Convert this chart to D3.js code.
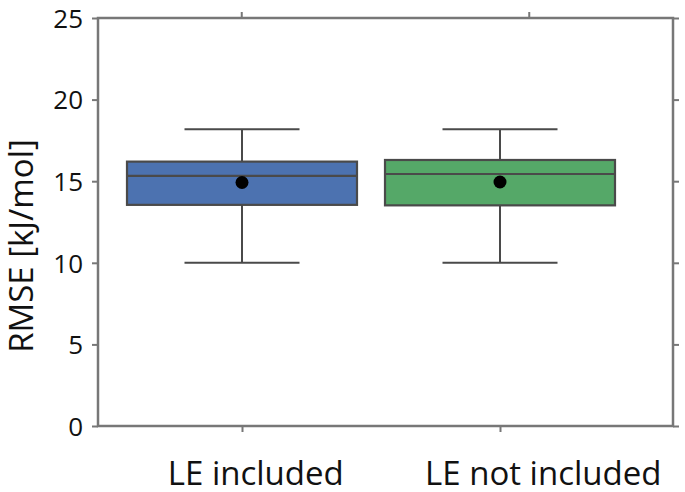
<!DOCTYPE html>
<html>
<head>
<meta charset="utf-8">
<script src="https://cdn.jsdelivr.net/npm/d3@7"></script>
<style>
  body { margin: 0; background: #fff; }
  text { font-family: "Open Sans", sans-serif; fill: #111; }
</style>
</head>
<body>
<svg id="chart"></svg>
<script>
// box plot values
const categories = ["LE included", "LE not included"];
const whiskerLow = [10.0, 10.0];
const q1 = [13.55, 13.52];
const median = [15.33, 15.44];
const q3 = [16.2, 16.3];
const whiskerHigh = [18.18, 18.18];
const means = [14.92, 14.95];
const colors = ["#4c72b0", "#55a868"];
const yTicks = [0, 5, 10, 15, 20, 25];

const width = 685, height = 492;
const frame = { left: 98, right: 673, top: 18, bottom: 426 };

const svg = d3.select("#chart").attr("width", width).attr("height", height);

const y = d3.scaleLinear().domain([0, 25]).range([frame.bottom, frame.top]);
// frame slots (top ticks, labels) and box centres (bottom ticks)
const band = d3.scaleBand().domain(categories).range([frame.left, frame.right]);
const x = d3.scalePoint().domain(categories).range([242, 500]);
const boxW = band.bandwidth() * 0.8;
const capW = band.bandwidth() * 0.4;

const data = categories.map((c, i) => ({
  cat: c, lo: whiskerLow[i], q1: q1[i], med: median[i], q3: q3[i],
  hi: whiskerHigh[i], mean: means[i], color: colors[i]
}));

const axisColor = "#777";

// axes
const gl = svg.append("g").attr("transform", `translate(${frame.left},0)`)
  .call(d3.axisLeft(y).tickValues(yTicks).tickSize(6).tickPadding(9));
const gr = svg.append("g").attr("transform", `translate(${frame.right},0)`)
  .call(d3.axisRight(y).tickValues(yTicks).tickSize(6).tickFormat(""));
const gb = svg.append("g").attr("transform", `translate(0,${frame.bottom})`)
  .call(d3.axisBottom(x).tickSize(6).tickFormat(""));
const gt = svg.append("g").attr("transform", `translate(0,${frame.top})`)
  .call(d3.axisTop(band).tickSize(6).tickFormat(""));

[gl, gr, gb, gt].forEach(g => {
  g.select(".domain").remove();
  g.selectAll(".tick line").attr("stroke", axisColor).attr("stroke-width", 2);
});
gl.selectAll("text")
  .style("font-family", "'Open Sans', sans-serif").style("font-size", "26px")
  .attr("fill", "#111").attr("dy", "0.36em");

// category labels
svg.append("g").selectAll("text").data(categories).enter().append("text")
  .attr("x", d => band(d) + band.bandwidth() / 2 + 14)
  .attr("y", 485)
  .attr("text-anchor", "middle")
  .style("font-size", "33px")
  .text(d => d);

svg.append("rect")
  .attr("x", frame.left).attr("y", frame.top)
  .attr("width", frame.right - frame.left).attr("height", frame.bottom - frame.top)
  .attr("fill", "none").attr("stroke", axisColor).attr("stroke-width", 2.5);

// boxes
const stroke = "#4a4a4a";
const box = svg.append("g").selectAll("g").data(data).enter().append("g");

box.append("line")
  .attr("x1", d => x(d.cat)).attr("x2", d => x(d.cat))
  .attr("y1", d => y(d.hi)).attr("y2", d => y(d.q3))
  .attr("stroke", stroke).attr("stroke-width", 2);
box.append("line")
  .attr("x1", d => x(d.cat)).attr("x2", d => x(d.cat))
  .attr("y1", d => y(d.q1)).attr("y2", d => y(d.lo))
  .attr("stroke", stroke).attr("stroke-width", 2);
box.selectAll(".cap").data(d => [d, d].map((v, k) => ({ cat: v.cat, val: k ? v.lo : v.hi })))
  .enter().append("line").attr("class", "cap")
  .attr("x1", d => x(d.cat) - capW / 2).attr("x2", d => x(d.cat) + capW / 2)
  .attr("y1", d => y(d.val)).attr("y2", d => y(d.val))
  .attr("stroke", stroke).attr("stroke-width", 2);

box.append("rect")
  .attr("x", d => x(d.cat) - boxW / 2).attr("width", boxW)
  .attr("y", d => y(d.q3)).attr("height", d => y(d.q1) - y(d.q3))
  .attr("fill", d => d.color).attr("stroke", stroke).attr("stroke-width", 2.2);
box.append("line")
  .attr("x1", d => x(d.cat) - boxW / 2).attr("x2", d => x(d.cat) + boxW / 2)
  .attr("y1", d => y(d.med)).attr("y2", d => y(d.med))
  .attr("stroke", stroke).attr("stroke-width", 2.2);
box.append("circle")
  .attr("cx", d => x(d.cat)).attr("cy", d => y(d.mean)).attr("r", 6.5)
  .attr("fill", "#000");

// y label
svg.append("text")
  .attr("transform", "translate(33,246) rotate(-90)")
  .attr("text-anchor", "middle")
  .style("font-size", "33px")
  .text("RMSE [kJ/mol]");
</script>
</body>
</html>
